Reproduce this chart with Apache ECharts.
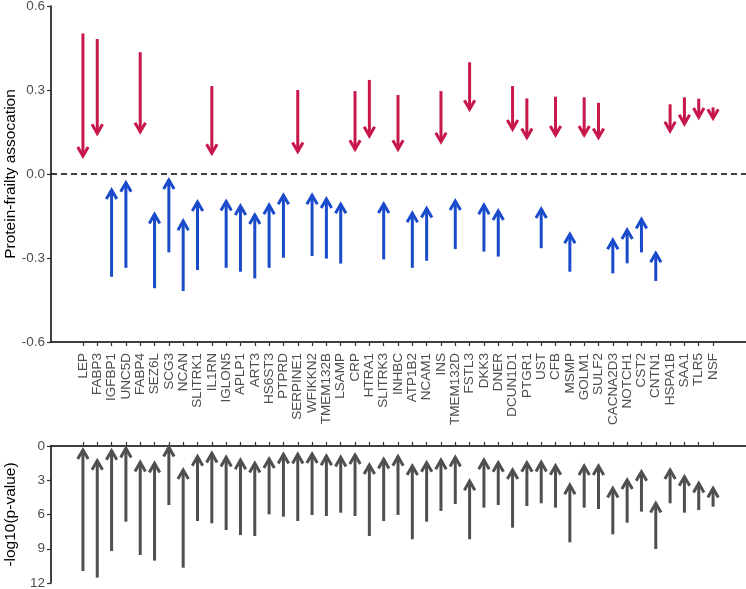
<!DOCTYPE html>
<html>
<head>
<meta charset="utf-8">
<script src="https://cdn.jsdelivr.net/npm/echarts@6/dist/echarts.min.js"></script>
<style>
  html, body { margin: 0; padding: 0; background: #fff; }
  #chart { width: 746px; height: 589px; }
</style>
</head>
<body>
<div id="chart"></div>
<script>
const genes = ['LEP', 'FABP3', 'IGFBP1', 'UNC5D', 'FABP4', 'SEZ6L', 'SCG3', 'NCAN', 'SLITRK1', 'IL1RN',
  'IGLON5', 'APLP1', 'ART3', 'HS6ST3', 'PTPRD', 'SERPINE1', 'WFIKKN2', 'TMEM132B', 'LSAMP', 'CRP',
  'HTRA1', 'SLITRK3', 'INHBC', 'ATP1B2', 'NCAM1', 'INS', 'TMEM132D', 'FSTL3', 'DKK3', 'DNER',
  'DCUN1D1', 'PTGR1', 'UST', 'CFB', 'MSMP', 'GOLM1', 'SULF2', 'CACNA2D3', 'NOTCH1', 'CST2',
  'CNTN1', 'HSPA1B', 'SAA1', 'TLR5', 'NSF']

// association: arrow tail -> arrow head
const assocFrom = [0.502, 0.482, -0.367, -0.335, 0.435, -0.408, -0.280, -0.418, -0.343, 0.314,
  -0.335, -0.349, -0.373, -0.335, -0.299, 0.300, -0.293, -0.302, -0.320, 0.296,
  0.336, -0.305, 0.282, -0.335, -0.310, 0.296, -0.268, 0.399, -0.277, -0.295,
  0.314, 0.270, -0.265, 0.276, -0.349, 0.274, 0.254, -0.355, -0.319, -0.280,
  -0.382, 0.249, 0.274, 0.269, 0.238]
const assocTo = [0.064, 0.145, -0.057, -0.031, 0.151, -0.144, -0.021, -0.168, -0.100, 0.074,
  -0.098, -0.114, -0.146, -0.111, -0.076, 0.080, -0.076, -0.089, -0.108, 0.088,
  0.136, -0.107, 0.088, -0.140, -0.123, 0.115, -0.096, 0.231, -0.111, -0.132,
  0.160, 0.130, -0.125, 0.139, -0.215, 0.139, 0.130, -0.236, -0.200, -0.162,
  -0.283, 0.154, 0.179, 0.203, 0.199]

// -log10(p-value): arrow tail -> arrow head
const pFrom = [10.95, 11.53, 9.20, 6.63, 9.55, 10.04, 5.17, 10.66, 6.57, 6.77,
  7.36, 7.80, 7.88, 5.99, 6.19, 6.57, 6.04, 6.13, 5.84, 6.13,
  7.88, 6.57, 6.04, 8.17, 6.63, 5.69, 5.08, 8.17, 5.40, 5.17,
  7.15, 5.26, 5.02, 5.40, 8.44, 5.40, 5.52, 7.74, 6.72, 5.75,
  9.02, 5.02, 5.84, 5.61, 5.32]
const pTo = [0.35, 1.29, 0.41, 0.20, 1.43, 1.52, 0.12, 2.10, 0.93, 0.64,
  0.99, 1.23, 1.52, 1.14, 0.73, 0.73, 0.70, 0.88, 0.99, 0.79,
  1.66, 1.17, 0.93, 1.75, 1.46, 1.23, 0.99, 3.07, 1.23, 1.46,
  2.10, 1.46, 1.43, 1.72, 3.42, 1.75, 1.75, 3.71, 2.98, 2.25,
  5.02, 2.10, 2.69, 3.27, 3.71]

const RED = '#c8174b'
const BLUE = '#1a4bcb'
const GREY = '#4f4f4f'
const idx = genes.map((g, i) => i)

function arrow(params, api) {
  const p0 = api.coord([api.value(0), api.value(1)])
  const p1 = api.coord([api.value(0), api.value(2)])
  const color = api.value(3) === 1 ? RED : (api.value(3) === 2 ? BLUE : GREY)
  const dx = p1[0] - p0[0], dy = p1[1] - p0[1]
  const len = Math.sqrt(dx * dx + dy * dy) || 1
  const ux = dx / len, uy = dy / len
  const L = 10.5, a = Math.PI / 6
  const c = Math.cos(a), s = Math.sin(a)
  const left = [p1[0] - L * (ux * c - uy * s), p1[1] - L * (uy * c + ux * s)]
  const right = [p1[0] - L * (ux * c + uy * s), p1[1] - L * (uy * c - ux * s)]
  return {
    type: 'group',
    children: [
      { type: 'line', shape: { x1: p0[0], y1: p0[1], x2: p1[0], y2: p1[1] },
        style: { stroke: color, lineWidth: 3, lineCap: 'butt' } },
      { type: 'polyline', shape: { points: [left, p1, right] },
        style: { stroke: color, lineWidth: 3, fill: null, lineJoin: 'miter' } }
    ]
  }
}

const font = 'Liberation Sans, Arial, sans-serif'
const xMin = -2.23, xMax = 46.3
const tickStyle = { color: '#333', width: 1.2 }

const chart = echarts.init(document.getElementById('chart'))
chart.setOption({
  animation: false,
  textStyle: { fontFamily: font },
  grid: [
    { left: 51, right: 0, top: 6, height: 336, outerBoundsMode: 'none', containLabel: false },
    { left: 51, right: 0, top: 446, height: 137, outerBoundsMode: 'none', containLabel: false }
  ],
  xAxis: [{
    gridIndex: 0, type: 'value', min: xMin, max: xMax, position: 'bottom',
    splitLine: { show: false },
    axisLine: { onZero: false, lineStyle: { color: '#000', width: 1.5 } },
    axisTick: { customValues: idx, length: 4, lineStyle: tickStyle },
    axisLabel: { customValues: idx, rotate: 90, margin: 11, fontSize: 13.5, color: '#4d4d4d',
      fontFamily: font, formatter: v => genes[Math.round(v)] }
  }, {
    gridIndex: 1, type: 'value', min: xMin, max: xMax, position: 'top',
    splitLine: { show: false },
    axisLine: { onZero: false, lineStyle: { color: '#000', width: 1.5 } },
    axisTick: { customValues: idx, length: 4, lineStyle: tickStyle },
    axisLabel: { show: false }
  }],
  yAxis: [{
    gridIndex: 0, type: 'value', min: -0.6, max: 0.6, interval: 0.3,
    name: 'Protein-frailty assocation', nameLocation: 'middle', nameGap: 32, nameMoveOverlap: false,
    nameTextStyle: { fontSize: 15.5, color: '#000', fontFamily: font },
    splitLine: { show: false },
    axisLine: { show: true, onZero: false, lineStyle: { color: '#000', width: 1.5 } },
    axisTick: { show: true, length: 4, lineStyle: tickStyle },
    axisLabel: { fontSize: 13.5, color: '#4d4d4d', margin: 6, formatter: v => v.toFixed(1) }
  }, {
    gridIndex: 1, type: 'value', min: 0, max: 12, interval: 3, inverse: true,
    name: '-log10(p-value)', nameLocation: 'middle', nameGap: 32, nameMoveOverlap: false,
    nameTextStyle: { fontSize: 15.5, color: '#000', fontFamily: font },
    splitLine: { show: false },
    axisLine: { show: true, onZero: false, lineStyle: { color: '#000', width: 1.5 } },
    axisTick: { show: true, length: 4, lineStyle: tickStyle },
    axisLabel: { fontSize: 13.5, color: '#4d4d4d', margin: 6 }
  }],
  series: [{
    type: 'custom', xAxisIndex: 0, yAxisIndex: 0, clip: false,
    renderItem: arrow,
    data: genes.map((g, i) => [i, assocFrom[i], assocTo[i], assocFrom[i] > 0 ? 1 : 2]),
    markLine: {
      silent: true, symbol: 'none', label: { show: false },
      lineStyle: { color: '#000', type: [6, 4], width: 1.5 },
      data: [{ yAxis: 0 }]
    }
  }, {
    type: 'custom', xAxisIndex: 1, yAxisIndex: 1, clip: false,
    renderItem: arrow,
    data: genes.map((g, i) => [i, pFrom[i], pTo[i], 3])
  }]
})
</script>
</body>
</html>
